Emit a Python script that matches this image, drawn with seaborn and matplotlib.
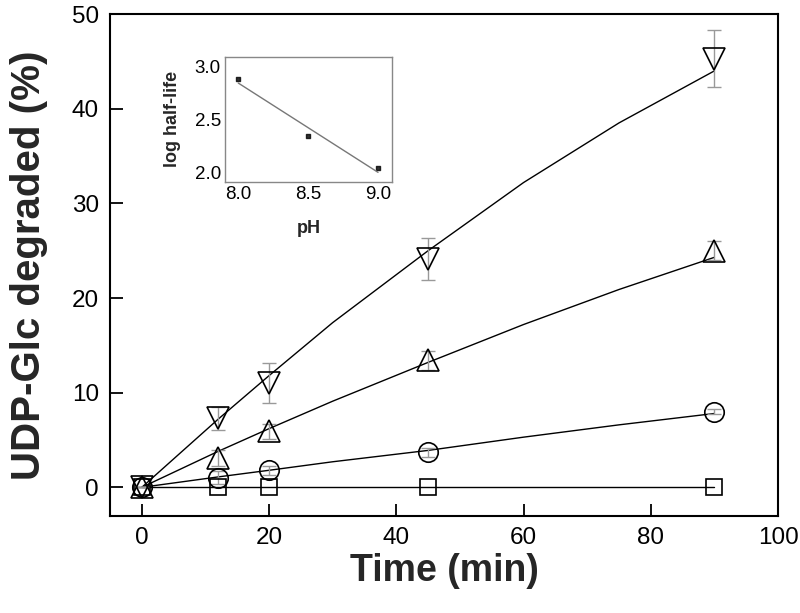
import matplotlib
matplotlib.use("Agg")
import matplotlib.pyplot as plt
import numpy as np
import pandas as pd
import seaborn as sns

sns.set_style("ticks")
plt.rcParams['font.family'] = ['Liberation Sans', 'DejaVu Sans']
plt.rcParams['font.size'] = 16
plt.rcParams['axes.axisbelow'] = False

'''
Data read off the figure
'''
time_pts = [0, 12, 20, 45, 90]

# measured points, % UDP-Glc degraded
pH90_y = [0.0, 7.3, 11.0, 24.1, 45.3]
pH90_err = [0.0, 1.2, 2.1, 2.2, 3.0]
pH85_y = [0.0, 3.1, 5.9, 13.4, 25.0]
pH85_err = [0.0, 0.8, 0.8, 1.0, 1.0]
pH80_y = [0.0, 1.0, 1.8, 3.7, 8.0]
pH80_err = [0.0, 0.7, 0.5, 0.5, 0.3]
ctrl_y = [0.0, 0.0, 0.0, 0.0, 0.0]

# fitted curves
fit_t = [0, 12, 20, 30, 45, 60, 75, 90]
fit_pH90 = [0.0, 7.2, 11.8, 17.4, 25.0, 32.2, 38.5, 44.0]
fit_pH85 = [0.0, 3.8, 6.2, 9.1, 13.2, 17.2, 20.9, 24.3]
fit_pH80 = [0.0, 1.1, 1.8, 2.7, 3.9, 5.3, 6.6, 7.8]
fit_ctrl = [0.0, 0.0, 0.0, 0.0, 0.0, 0.0, 0.0, 0.0]

# inset
ins_pH = [8.0, 8.5, 9.0]
ins_loghl = [2.884, 2.347, 2.038]

'''
Main plot
'''
fig = plt.figure(figsize=(8, 6.13), dpi=100)
ax = fig.add_axes([0.1375, 0.1587, 0.835, 0.8183])

series = [
    (pH90_y, pH90_err, fit_pH90, 'v', 16),
    (pH85_y, pH85_err, fit_pH85, '^', 16),
    (pH80_y, pH80_err, fit_pH80, 'o', 14),
    (ctrl_y, None, fit_ctrl, 's', 12),
]

for y, err, fit, mk, ms in series:
    sns.lineplot(x=fit_t, y=fit, ax=ax, color='black', lw=1.0, zorder=2)
    if err is not None:
        ax.errorbar(time_pts, y, yerr=err, fmt='none', ecolor='#999999',
                    elinewidth=1.0, capsize=5, capthick=1.0, zorder=3)
    ax.plot(time_pts, y, linestyle='none', marker=mk, markersize=ms,
            markerfacecolor='none', markeredgecolor='black',
            markeredgewidth=1.2, zorder=4)

ax.set_xlim(-5, 100)
ax.set_ylim(-3, 50)
ax.set_xticks([0, 20, 40, 60, 80, 100])
ax.set_yticks([0, 10, 20, 30, 40, 50])
ax.tick_params(axis='both', which='major', direction='in', length=9,
               width=1.3, color='black', labelcolor='black', labelsize=17.5,
               pad=8, bottom=True, left=True, top=False, right=False)
for s in ax.spines.values():
    s.set_linewidth(1.5)
    s.set_color('black')
ax.set_xlabel('Time (min)', fontsize=27, fontweight='bold', labelpad=3)
ax.set_ylabel('UDP-Glc degraded (%)', fontsize=29, fontweight='bold', labelpad=17)

'''
Inset
'''
axin = fig.add_axes([0.28125, 0.703, 0.20875, 0.2044])
sns.regplot(x=ins_pH, y=ins_loghl, ax=axin, ci=None, truncate=True,
            marker='s', scatter_kws={'s': 12, 'color': 'black'},
            line_kws={'color': '#777777', 'lw': 1.0})
axin.set_xlim(7.905, 9.10)
axin.set_ylim(1.908, 3.095)
axin.set_xticks([8.0, 8.5, 9.0])
axin.set_yticks([2.0, 2.5, 3.0])
axin.tick_params(length=0, labelsize=13.5, pad=3, labelcolor='black')
for s in axin.spines.values():
    s.set_color('#888888')
    s.set_linewidth(1.0)
axin.set_xlabel('pH', fontsize=13, fontweight='bold', labelpad=12)
axin.set_ylabel('log half-life', fontsize=13, fontweight='bold', labelpad=10)

plt.savefig('out.png', dpi=100)
